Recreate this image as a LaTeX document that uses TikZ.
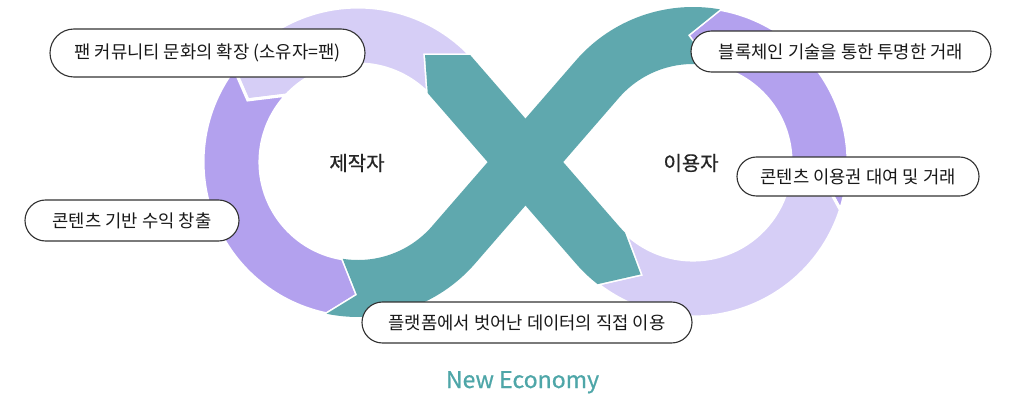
\documentclass[tikz,border=0pt]{standalone}
\usepackage{fontspec}
\setmainfont{Noto Sans CJK KR}
\newfontfamily\heavyfont{Noto Sans CJK KR}[FakeBold=0.6]
\usetikzlibrary{calc,shapes.misc}

\definecolor{bandteal}{HTML}{5FA8AE}
\definecolor{bandpurple}{HTML}{B3A1EE}
\definecolor{bandlilac}{HTML}{D6CEF6}
\definecolor{econteal}{HTML}{4EA6A8}

\newcommand{\pxu}{0.025cm}
\newcommand{\rIn}{98}
\newcommand{\rOut}{155}
\newcommand{\rMid}{126.5}

% the two teal arms of the X, used twice (stroke, then clean refill)
\newcommand{\crossA}{($(L)+(99:\rIn)$) arc[start angle=99,end angle=40.9,radius=\rIn]
  -- ($(R)+(220.9:\rOut)$) arc[start angle=220.9,end angle=280,radius=\rOut]
  -- ($(R)+(267.7:127)$) -- ($(R)+(280:\rIn)$) arc[start angle=280,end angle=220.9,radius=\rIn]
  -- ($(L)+(40.9:\rOut)$) arc[start angle=40.9,end angle=101.7,radius=\rOut]
  -- ($(L)+(90.4:133)$) -- cycle}
\newcommand{\crossB}{($(L)+(302.1:126.2)$) -- ($(L)+(316.4:\rOut)$)
  -- ($(R)+(139.1:\rIn)$) arc[start angle=139.1,end angle=134,radius=\rIn]
  -- ($(R)+(115:124)$) -- ($(R)+(128:\rOut)$) arc[start angle=128,end angle=139.1,radius=\rOut]
  -- ($(L)+(315.4:\rIn)$) -- cycle}

\begin{document}
\begin{tikzpicture}[
  x=\pxu,y=-\pxu,
  band/.style={fill=#1,draw=white,line width=2.2pt},
  note/.style={draw=black!80,line width=0.8pt,fill=white,rounded rectangle,
    minimum height=41*\pxu,inner xsep=0pt,font=\fontsize{12.6}{15}\selectfont,text=black!90},
  side/.style={font=\heavyfont\fontsize{14.2}{16}\selectfont,text=black!85}
]
  \useasboundingbox (0,0) rectangle (1011,401);
  \coordinate (L) at (358,162);
  \coordinate (R) at (693,162);

  \path[band=bandlilac] ($(L)+(217:\rOut)$) arc[start angle=217,end angle=316.4,radius=\rOut]
    -- ($(L)+(302.1:126.2)$) -- ($(L)+(315.4:\rIn)$) arc[start angle=315.4,end angle=223,radius=\rIn]
    -- ($(L)+(209.4:\rMid)$) -- cycle;
  \path[band=bandpurple] ($(L)+(217:\rOut)$) arc[start angle=217,end angle=101.7,radius=\rOut]
    -- ($(L)+(90.4:133)$) -- ($(L)+(99:\rIn)$) arc[start angle=99,end angle=223,radius=\rIn]
    -- ($(L)+(209.4:\rMid)$) -- cycle;
  \path[band=bandpurple] ($(R)+(267.7:127)$) -- ($(R)+(280:\rOut)$) arc[start angle=280,end angle=378,radius=\rOut]
    -- ($(R)+(364:\rMid)$) -- ($(R)+(380:\rIn)$) arc[start angle=380,end angle=280,radius=\rIn] -- cycle;
  \path[band=bandlilac] ($(R)+(364:\rMid)$) -- ($(R)+(378:\rOut)$) arc[start angle=378,end angle=488,radius=\rOut]
    -- ($(R)+(115:124)$) -- ($(R)+(134:\rIn)$) arc[start angle=134,end angle=20,radius=\rIn] -- cycle;
  \path[band=bandteal] \crossA;
  \path[band=bandteal] \crossB;
  \fill[bandteal] \crossA;
  \fill[bandteal] \crossB;

  \node[side] (maker) at (357,163) {제작자};
  \node[side] (user) at (691,163) {이용자};

  \node[note,minimum width=315*\pxu,minimum height=48*\pxu] (fanbox) at (207.5,53) {팬 커뮤니티 문화의 확장 (소유자=팬)};
  \node[note,minimum width=214*\pxu] (revbox) at (132,220.5) {콘텐츠 기반 수익 창출};
  \node[note,minimum width=300*\pxu] (chainbox) at (841,51.5) {블록체인 기술을 통한 투명한 거래};
  \node[note,minimum width=242*\pxu,minimum height=39*\pxu] (rentbox) at (858,176.5) {콘텐츠 이용권 대여 및 거래};
  \node[note,minimum width=330*\pxu] (directbox) at (527,322.5) {플랫폼에서 벗어난 데이터의 직접 이용};

  \node[anchor=base,font=\heavyfont\fontsize{16.4}{19}\selectfont,text=econteal] (economy) at (522.5,388) {New Economy};
\end{tikzpicture}
\end{document}
